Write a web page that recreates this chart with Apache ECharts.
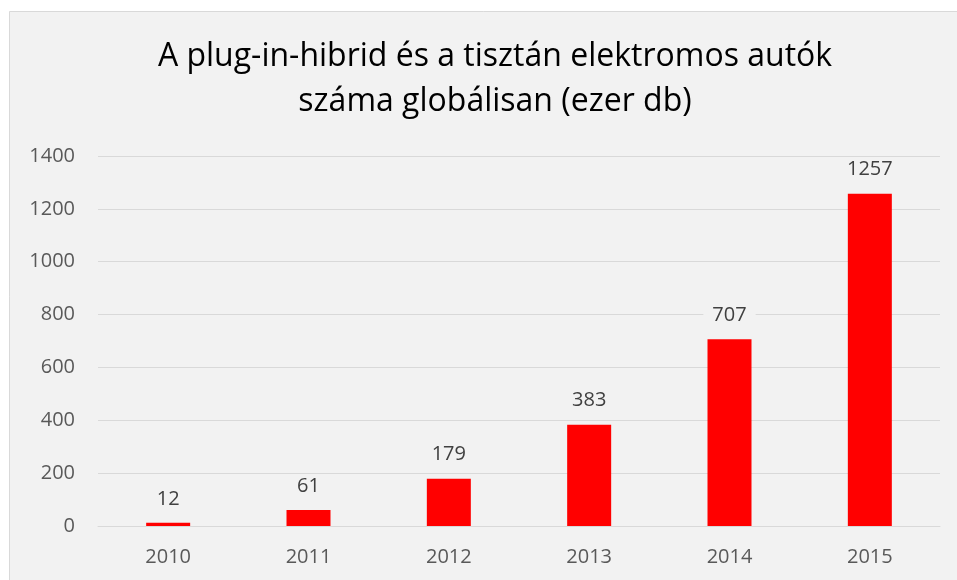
<!DOCTYPE html>
<html>
<head>
<meta charset="utf-8">
<script src="https://cdn.jsdelivr.net/npm/echarts@6/dist/echarts.min.js"></script>
<style>
  html, body { margin: 0; padding: 0; background: #fff; }
  #chart { width: 957px; height: 580px; }
</style>
</head>
<body>
<div id="chart"></div>
<script>
// data
var years = ['2010', '2011', '2012', '2013', '2014', '2015'];
var cars = [12, 61, 179, 383, 707, 1257];
var yTicks = { min: 0, max: 1400, step: 200 };

var font = '"Open Sans", sans-serif';

var chart = echarts.init(document.getElementById('chart'));

var option = {
  backgroundColor: '#fff',
  animation: false,
  graphic: [{
    type: 'rect',
    z: -10,
    shape: { x: 9.5, y: 11.5, width: 960, height: 580 },
    style: { fill: '#f2f2f2', stroke: '#d9d9d9', lineWidth: 1 }
  }],
  title: {
    text: 'A plug-in-hibrid és a tisztán elektromos autók\nszáma globálisan (ezer db)',
    left: 490,
    textAlign: 'center',
    top: 29,
    textStyle: {
      fontFamily: font,
      fontSize: 32,
      fontWeight: 'normal',
      color: '#000',
      lineHeight: 45
    }
  },
  grid: {
    left: 98,
    right: 17,
    top: 156,
    bottom: 54
  },
  xAxis: {
    type: 'category',
    data: years,
    axisLine: { lineStyle: { color: '#d9d9d9', width: 1 } },
    axisTick: { show: false },
    axisLabel: {
      margin: 21,
      fontFamily: font,
      fontSize: 20,
      color: '#595959'
    }
  },
  yAxis: {
    type: 'value',
    min: yTicks.min,
    max: yTicks.max,
    interval: yTicks.step,
    axisLine: { show: false },
    axisTick: { show: false },
    splitLine: { lineStyle: { color: '#d9d9d9', width: 1 } },
    axisLabel: {
      margin: 23,
      fontFamily: font,
      fontSize: 20,
      color: '#595959',
      formatter: function (v) { return String(v); }
    }
  },
  series: [{
    type: 'bar',
    data: cars,
    barWidth: 44,
    itemStyle: { color: '#ff0000' },
    label: {
      show: true,
      position: 'top',
      distance: 12,
      fontFamily: font,
      fontSize: 20,
      color: '#404040',
      backgroundColor: '#f2f2f2',
      padding: [2, 9]
    }
  }]
};

chart.setOption(option);
</script>
</body>
</html>
